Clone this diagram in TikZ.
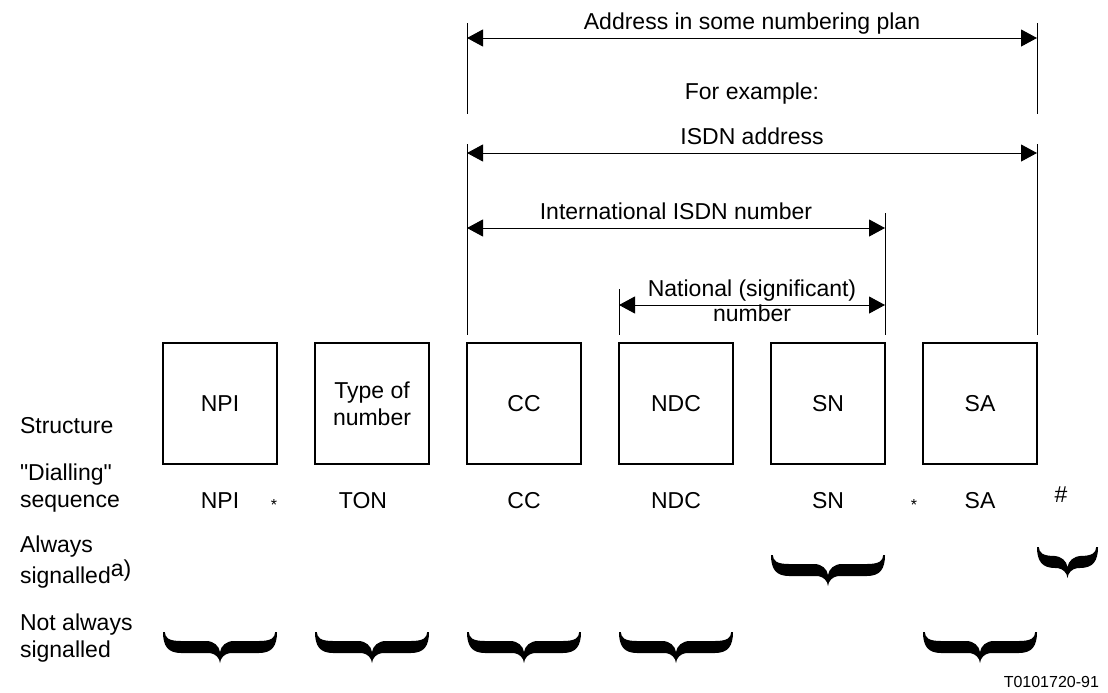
\documentclass[tikz,border=0pt]{standalone}
\usepackage{fontspec}
\setmainfont{Liberation Sans}
\usetikzlibrary{arrows.meta,positioning,calc}

% straight double quote, kept out of the TeX ligature mapping
\newcommand{\strq}{\XeTeXglyph\XeTeXcharglyph"0022\relax}

% signalling brace: left, right, top (in px units of the picture)
\newcommand{\sigbrace}[3]{%
  \pgfmathsetmacro{\brL}{#1}\pgfmathsetmacro{\brR}{#2}%
  \pgfmathsetmacro{\brM}{(#1+#2)/2}\pgfmathsetmacro{\brT}{#3}%
  \fill (\brL,\brT) .. controls (\brL,\brT+14) and (\brL+5,\brT+21) .. (\brL+18,\brT+21)
    -- (\brM-10,\brT+21) .. controls (\brM-4,\brT+22) and (\brM-0.5,\brT+26) .. (\brM,\brT+31)
    .. controls (\brM+0.5,\brT+26) and (\brM+4,\brT+22) .. (\brM+10,\brT+21)
    -- (\brR-18,\brT+21) .. controls (\brR-5,\brT+21) and (\brR,\brT+14) .. (\brR,\brT)
    -- (\brR-1.8,\brT) .. controls (\brR-2,\brT+6) and (\brR-6,\brT+9) .. (\brR-18,\brT+9)
    -- (\brM+14,\brT+9)
    .. controls (\brM+6,\brT+9) and (\brM+1,\brT+14) .. (\brM,\brT+20)
    .. controls (\brM-1,\brT+14) and (\brM-6,\brT+9) .. (\brM-14,\brT+9)
    -- (\brL+18,\brT+9) .. controls (\brL+6,\brT+9) and (\brL+2,\brT+6) .. (\brL+1.8,\brT)
    -- cycle;}

\tikzset{
  numbox/.style={draw, line width=0.6pt, minimum width=57pt, minimum height=60.5pt,
    align=center, inner sep=0pt, outer sep=0pt},
  dimline/.style={{Triangle[length=8pt,width=8.5pt]}-{Triangle[length=8pt,width=8.5pt]},
    line width=0.5pt},
  guide/.style={line width=0.5pt},
  rowlabel/.style={anchor=west, align=left},
  small/.style={font=\fontsize{8}{9}\selectfont},
}

\begin{document}
\begin{tikzpicture}[x=0.5pt, y=-0.5pt, font=\fontsize{11.5}{13.5}\selectfont]
    \useasboundingbox (0,0) rectangle (1108,692);

    % structure boxes
    \node[numbox] (npi) at (220,403.5) {NPI};
    \node[numbox, right=19pt of npi] (ton) {Type of\\number};
    \node[numbox, right=19pt of ton] (cc) {CC};
    \node[numbox, right=19pt of cc] (ndc) {NDC};
    \node[numbox, right=19pt of ndc] (sn) {SN};
    \node[numbox, right=19pt of sn] (sa) {SA};

    % ends of the extension lines
    \coordinate (ccL) at ([yshift=4pt]cc.north west);
    \coordinate (ndcL) at ([yshift=4pt]ndc.north west);
    \coordinate (snR) at ([yshift=4pt]sn.north east);
    \coordinate (saR) at ([yshift=4pt]sa.north east);

    % dimension levels
    \coordinate (addrL) at (467,38);  \coordinate (addrR) at (1037,38);
    \coordinate (isdnL) at (467,153); \coordinate (isdnR) at (1037,153);
    \coordinate (intlL) at (467,228); \coordinate (intlR) at (885,228);
    \coordinate (natL) at (619,305);  \coordinate (natR) at (885,305);

    \draw[guide] (addrL) ++(0,-15) -- ++(0,91);
    \draw[guide] (addrR) ++(0,-15) -- ++(0,91);
    \draw[guide] (isdnL) ++(0,-9) -- (ccL);
    \draw[guide] (isdnR) ++(0,-9) -- (saR);
    \draw[guide] (intlR) ++(0,-15) -- (snR);
    \draw[guide] (natL) ++(0,-16) -- (ndcL);

    \draw[dimline] (addrL) -- (addrR) node[midway, anchor=base, yshift=4.5pt] (addr) {Address in some numbering plan};
    \node[anchor=base] (forex) at (752,99) {For example:};
    \draw[dimline] (isdnL) -- (isdnR) node[midway, anchor=base, yshift=4.5pt] (isdn) {ISDN address};
    \draw[dimline] (intlL) -- (intlR) node[midway, anchor=base, yshift=4.5pt] (intl) {International ISDN number};
    \draw[dimline] (natL) -- (natR) node[midway, anchor=base, yshift=4.5pt] (nat) {National (significant)};
    \node[anchor=base, yshift=-8pt] (natnum) at ($(natL)!0.5!(natR)$) {number};

    % row labels
    \node[rowlabel] (lstruct) at (13,426) {Structure};
    \node[rowlabel] (ldial) at (13,488.5) {\strq Dialling\strq\\sequence};
    \node[rowlabel] (lalw) at (13,562) {Always\\signalled\raisebox{3.5pt}{a)}};
    \node[rowlabel] (lnot) at (13,638.5) {Not always\\signalled};

    % dialling sequence
    \node[anchor=base] (dnpi) at (220,508) {NPI};
    \node[small] (dst1) at (274,505) {*};
    \node[anchor=base] (dton) at (363,508) {TON};
    \node[anchor=base] (dcc) at (524,508) {CC};
    \node[anchor=base] (dndc) at (676,508) {NDC};
    \node[anchor=base] (dsn) at (828,508) {SN};
    \node[small] (dst2) at (914,505) {*};
    \node[anchor=base] (dsa) at (980,508) {SA};
    \node[anchor=base] (dhash) at (1061,502) {\#};

    % always signalled
    \sigbrace{771}{885}{555}
    \sigbrace{1037}{1098}{547}

    % not always signalled
    \sigbrace{163}{277}{632}
    \sigbrace{315}{429}{632}
    \sigbrace{467}{581}{632}
    \sigbrace{619}{733}{632}
    \sigbrace{923}{1037}{632}

    \node[small, anchor=base east] (tag) at (1106,687) {T0101720-91};
\end{tikzpicture}
\end{document}
